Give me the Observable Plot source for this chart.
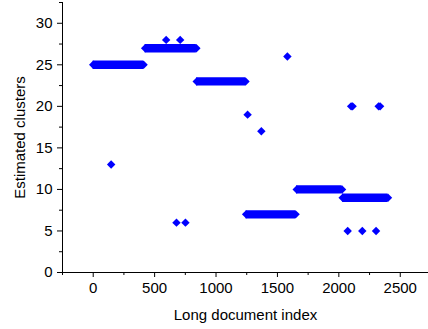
<!DOCTYPE html>
<html>
<head>
<meta charset="utf-8">
<script src="https://cdn.jsdelivr.net/npm/d3@7"></script>
<script src="https://cdn.jsdelivr.net/npm/@observablehq/plot@0.6"></script>
<style>
  html, body { margin: 0; padding: 0; background: #fff; }
  #chart svg { display: block; }
</style>
</head>
<body>
<div id="chart"></div>
<script>
// Dense runs of consecutive documents sharing the same estimate
const runStart = [0, 423, 843, 1245, 1657, 2031];
const runEnd   = [410, 840, 1240, 1648, 2026, 2400];
const runValue = [25, 27, 23, 7, 10, 9];

// Isolated points
const outX = [146, 594, 708, 678, 751, 1257, 1369, 1581, 2100, 2112, 2324, 2336, 2072, 2191, 2303];
const outY = [13, 28, 28, 6, 6, 19, 17, 26, 20, 20, 20, 20, 5, 5, 5];

// Tick labels
const xTicks = [0, 500, 1000, 1500, 2000, 2500];
const xMinor = [-250, 250, 750, 1250, 1750, 2250];
const yTicks = [0, 5, 10, 15, 20, 25, 30];
const yMinor = [2.5, 7.5, 12.5, 17.5, 22.5, 27.5, 32.5];

const xLabel = "Long document index";
const yLabel = "Estimated clusters";

const runs = runStart.map((s, i) => ({start: s, end: runEnd[i], value: runValue[i]}));
const runEnds = runs.flatMap(d => [{x: d.start, y: d.value}, {x: d.end, y: d.value}]);
const outliers = outX.map((x, i) => ({x, y: outY[i]}));

const blue = "#0000ff";
const font = "'Liberation Sans', Arial, Helvetica, sans-serif";

const chart = Plot.plot({
  width: 428,
  height: 329,
  marginLeft: 62,
  marginRight: 0,
  marginTop: 2,
  marginBottom: 57,
  x: {domain: [-250, 2730]},
  y: {domain: [0, 32.5]},
  style: {fontFamily: font, fontSize: "15px", color: "black", background: "white"},
  marks: [
    Plot.axisX({ticks: xTicks, tickSize: 5, tickPadding: 5, fontSize: 15, tickFormat: d => String(d),
                label: xLabel, labelAnchor: "center", labelOffset: 47, labelArrow: "none"}),
    Plot.axisX({ticks: xMinor, tickSize: 3, tickFormat: () => "", label: null}),
    Plot.axisY({ticks: yTicks, tickSize: 5, tickPadding: 5, fontSize: 15, tickFormat: d => String(d),
                label: yLabel, labelAnchor: "center", labelOffset: 48, labelArrow: "none"}),
    Plot.axisY({ticks: yMinor, tickSize: 3, tickFormat: () => "", label: null}),
    Plot.ruleY([0], {stroke: "black"}),
    Plot.ruleX([-250], {stroke: "black"}),
    Plot.ruleY(runs, {x1: "start", x2: "end", y: "value", stroke: blue, strokeWidth: 8.4}),
    Plot.dot(runEnds, {x: "x", y: "y", symbol: "diamond2", r: 3.8, fill: blue}),
    Plot.dot(outliers, {x: "x", y: "y", symbol: "diamond2", r: 3.8, fill: blue})
  ]
});
document.getElementById("chart").appendChild(chart);
</script>
</body>
</html>
